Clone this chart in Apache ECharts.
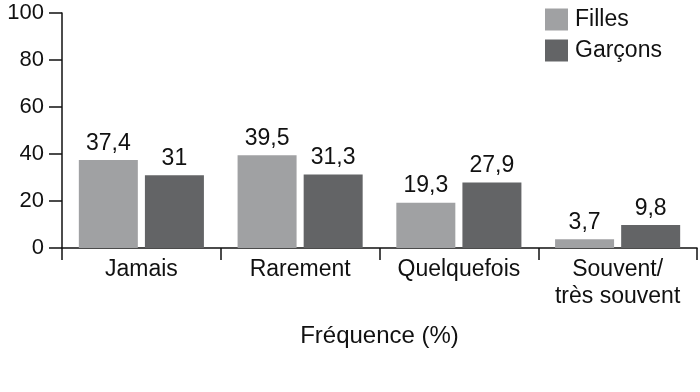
<!DOCTYPE html>
<html><head><meta charset="utf-8">
<script src="https://cdn.jsdelivr.net/npm/echarts@6/dist/echarts.min.js"></script>
<style>html,body{margin:0;padding:0;background:#fff}#c{width:700px;height:392px}</style>
</head><body><div id="c"></div>
<script>
const categories = ['Jamais', 'Rarement', 'Quelquefois', 'Souvent/\ntrès souvent'];
const filles = [37.4, 39.5, 19.3, 3.7];
const garcons = [31, 31.3, 27.9, 9.8];
const seriesNames = ['Filles', 'Garçons'];
const xAxisTitle = 'Fréquence (%)';

const FONT = 'Liberation Sans, Arial, sans-serif';
const fmt = p => String(p.value).replace('.', ',');
const chart = echarts.init(document.getElementById('c'), null, {renderer: 'canvas'});
chart.setOption({
  animation: false,
  textStyle: {fontFamily: FONT},
  grid: {left: 62, right: 3, top: 13, bottom: 144, containLabel: false},
  legend: {
    orient: 'vertical', left: 545, top: 8, padding: 0, itemWidth: 23, itemHeight: 22, itemGap: 8,
    icon: 'rect',
    textStyle: {fontFamily: FONT, fontSize: 23, color: '#111', padding: [0, 0, 0, 2]},
    data: seriesNames
  },
  xAxis: {
    type: 'category', data: categories,
    axisLine: {lineStyle: {color: '#111', width: 1.5}},
    axisTick: {show: true, interval: 0, length: 12, lineStyle: {color: '#111', width: 1.5}},
    axisLabel: {interval: 0, fontFamily: FONT, fontSize: 23, color: '#111', margin: 8, lineHeight: 27},
    name: xAxisTitle, nameLocation: 'middle', nameGap: 76,
    nameTextStyle: {fontFamily: FONT, fontSize: 24, color: '#111'}
  },
  yAxis: {
    type: 'value', min: 0, max: 100, interval: 20,
    splitLine: {show: false},
    axisLine: {show: true, onZero: false, lineStyle: {color: '#111', width: 1.5}},
    axisTick: {show: true, inside: false, length: 13, lineStyle: {color: '#111', width: 1.5}},
    axisLabel: {fontFamily: FONT, fontSize: 22, color: '#111', margin: 18}
  },
  series: [
    {name: seriesNames[0], type: 'bar', data: filles, barWidth: 59, barGap: '12%',
     itemStyle: {color: '#a0a1a3'},
     label: {show: true, position: 'top', distance: 5, formatter: fmt, fontFamily: FONT, fontSize: 23, color: '#111'}},
    {name: seriesNames[1], type: 'bar', data: garcons, barWidth: 59,
     itemStyle: {color: '#636466'},
     label: {show: true, position: 'top', distance: 5, formatter: fmt, fontFamily: FONT, fontSize: 23, color: '#111'}}
  ]
});
</script></body></html>
